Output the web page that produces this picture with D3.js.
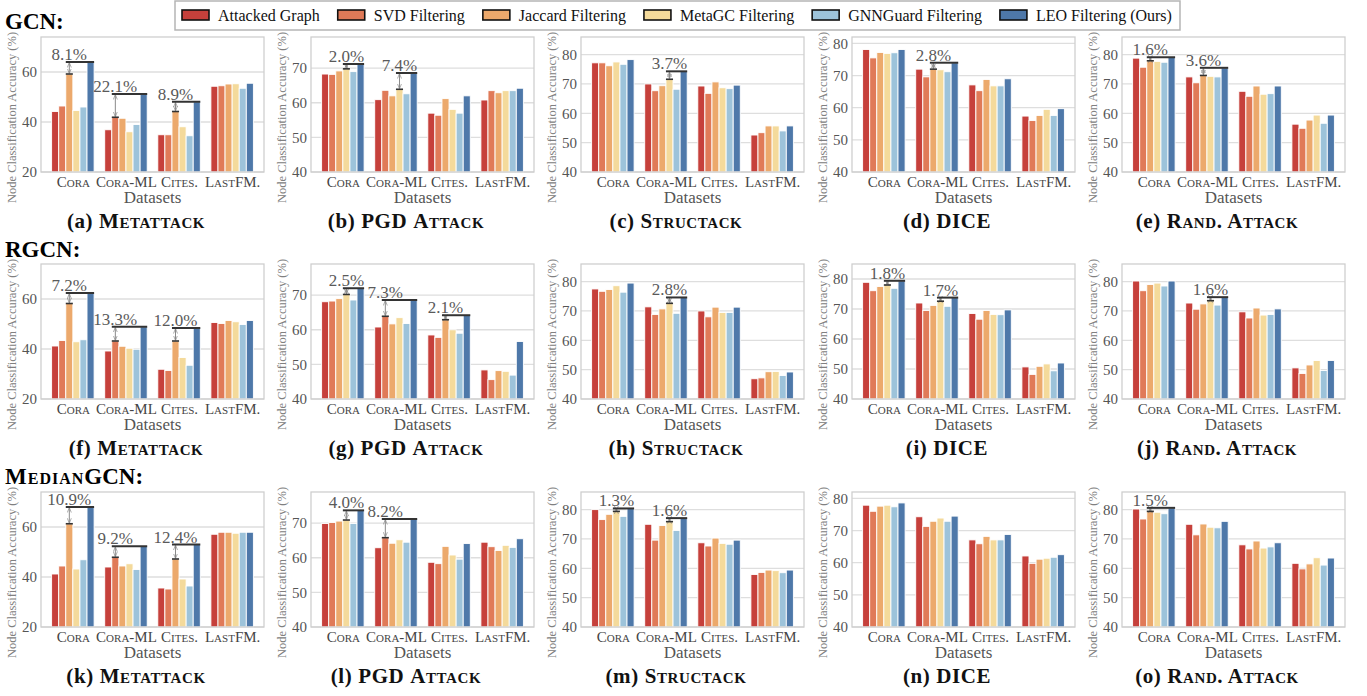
<!DOCTYPE html>
<html><head><meta charset="utf-8">
<script src="https://cdn.jsdelivr.net/npm/d3@7"></script>
<style>
body{margin:0;background:#fff;}
text{font-family:"Liberation Serif","Times New Roman",serif;}
</style></head><body>
<svg id="chart" width="1367" height="696"></svg>
<script>
const methods = ["Attacked Graph","SVD Filtering","Jaccard Filtering","MetaGC Filtering","GNNGuard Filtering","LEO Filtering (Ours)"];
const methodColors = ["#c6403b","#e07a58","#eca96c","#f4da9b","#9dc3da","#4e78a9"];
const datasets = ["Cora","Cora-ML","Cites.","LastFM."];
const models = [["","GCN:"],["","RGCN:"],["Median","GCN:"]];
const attacks = [["","Metattack"],["PGD ","Attack"],["","Structack"],["DICE",""],["","Rand. Attack"]];
const letters = ["a","b","c","d","e","f","g","h","i","j","k","l","m","n","o"];

// values: [dataset][method]
const gcnMetattack = [[44.2,46.4,59.2,44.6,46.0,64.0],[36.9,41.9,41.5,36.1,39.0,51.2],[34.9,34.9,44.2,38.1,34.5,48.1],[54.3,54.5,55.2,55.3,53.5,55.5]];
const gcnPGD = [[68.3,68.2,69.2,69.8,69.0,71.2],[60.9,63.6,62.0,63.9,62.6,68.6],[57.0,56.4,61.2,58.1,57.0,62.0],[60.8,63.5,62.9,63.5,63.5,64.2]];
const gcnStructack = [[77.2,77.2,76.2,77.5,76.7,78.3],[70.0,67.7,69.4,71.6,68.2,74.3],[69.3,66.8,70.7,68.7,68.4,69.6],[52.6,53.4,55.7,55.7,54.0,55.7]];
const gcnDice = [[78.1,75.5,77.2,76.9,77.1,78.1],[72.0,69.6,72.0,71.8,71.2,74.0],[67.1,65.3,68.8,66.8,66.8,69.0],[57.4,56.0,57.6,59.5,57.6,59.7]];
const gcnRand = [[78.8,75.7,77.9,77.7,77.4,79.1],[72.4,70.4,72.9,72.6,72.4,75.5],[67.5,65.8,69.3,66.5,66.7,69.3],[56.3,54.9,57.7,59.4,56.6,59.4]];
const rgcnMetattack = [[41.2,43.4,58.2,42.9,43.7,62.4],[39.2,43.2,41.1,40.3,39.9,48.9],[31.9,31.4,43.2,36.6,33.5,48.4],[50.6,50.2,51.4,50.9,49.8,51.4]];
const rgcnPGD = [[68.1,68.3,69.0,70.2,68.6,72.0],[60.8,63.9,61.7,63.5,61.8,68.6],[58.5,57.8,62.9,60.0,59.0,64.2],[48.4,45.6,48.2,48.0,46.9,56.6]];
const rgcnStructack = [[77.5,76.7,77.3,78.6,76.4,79.5],[71.4,68.8,70.7,72.6,69.2,74.6],[70.0,68.0,71.3,69.5,69.5,71.3],[46.9,47.2,49.3,49.4,48.0,49.2]];
const rgcnDice = [[78.9,76.1,77.5,78.0,76.9,79.4],[72.0,69.5,71.2,72.6,70.9,73.8],[68.5,66.6,69.5,68.2,68.1,69.7],[50.7,48.2,50.9,51.7,49.4,52.0]];
const rgcnRand = [[80.2,76.9,79.0,79.5,78.5,80.2],[72.7,70.6,72.4,73.5,72.0,74.7],[69.7,67.6,71.0,68.6,68.8,70.7],[50.6,48.7,51.6,53.1,49.7,53.1]];
const medMetattack = [[41.2,44.4,61.3,43.2,46.9,68.0],[44.0,47.9,44.4,45.3,43.0,52.3],[35.6,35.2,47.2,39.2,36.4,53.0],[57.1,57.9,57.9,57.5,57.9,57.9]];
const medPGD = [[69.9,70.2,70.6,70.9,69.9,73.7],[62.9,65.8,64.2,65.2,64.5,71.2],[58.7,58.3,63.3,60.8,59.6,64.1],[64.5,63.2,62.1,63.6,63.0,65.5]];
const medStructack = [[80.0,76.6,78.4,79.4,77.7,80.4],[75.0,69.6,74.6,75.9,72.9,77.1],[68.7,67.6,70.3,68.5,68.2,69.6],[57.9,58.6,59.4,59.2,58.5,59.4]];
const medDice = [[77.9,76.0,77.6,77.9,77.4,78.6],[74.3,71.3,72.9,73.9,72.9,74.5],[67.1,65.9,68.2,67.1,67.1,68.8],[62.1,59.8,61.1,61.4,61.7,62.5]];
const medRand = [[80.2,76.8,79.4,79.1,78.6,80.6],[75.0,71.4,75.1,74.0,73.8,76.0],[68.0,66.6,69.3,66.9,67.3,68.7],[61.7,59.8,61.5,63.6,61.1,63.5]];

// annotations: [dataset index, best-baseline method index, label]
const gcnMetattackNotes = [[0,2,"8.1%"],[1,1,"22.1%"],[2,2,"8.9%"]];
const gcnPGDNotes = [[0,3,"2.0%"],[1,3,"7.4%"]];
const gcnStructackNotes = [[1,3,"3.7%"]];
const gcnDiceNotes = [[1,2,"2.8%"]];
const gcnRandNotes = [[0,2,"1.6%"],[1,2,"3.6%"]];
const rgcnMetattackNotes = [[0,2,"7.2%"],[1,1,"13.3%"],[2,2,"12.0%"]];
const rgcnPGDNotes = [[0,3,"2.5%"],[1,1,"7.3%"],[2,2,"2.1%"]];
const rgcnStructackNotes = [[1,3,"2.8%"]];
const rgcnDiceNotes = [[0,3,"1.8%"],[1,3,"1.7%"]];
const rgcnRandNotes = [[1,3,"1.6%"]];
const medMetattackNotes = [[0,2,"10.9%"],[1,1,"9.2%"],[2,2,"12.4%"]];
const medPGDNotes = [[0,3,"4.0%"],[1,1,"8.2%"]];
const medStructackNotes = [[0,3,"1.3%"],[1,3,"1.6%"]];
const medDiceNotes = [];
const medRandNotes = [[0,2,"1.5%"]];

const yMaxes = [74,79,86,82,86, 74,79,86,85,86, 74,79,86,82,86];
const ticksMeta = [20,40,60];
const ticksOther = [40,50,60,70,80];

const panelValues = [gcnMetattack,gcnPGD,gcnStructack,gcnDice,gcnRand,
  rgcnMetattack,rgcnPGD,rgcnStructack,rgcnDice,rgcnRand,
  medMetattack,medPGD,medStructack,medDice,medRand];
const panelNotes = [gcnMetattackNotes,gcnPGDNotes,gcnStructackNotes,gcnDiceNotes,gcnRandNotes,
  rgcnMetattackNotes,rgcnPGDNotes,rgcnStructackNotes,rgcnDiceNotes,rgcnRandNotes,
  medMetattackNotes,medPGDNotes,medStructackNotes,medDiceNotes,medRandNotes];

// ---------------- layout ----------------
const svg = d3.select("#chart");
const colLeft = [41,311,581,852,1122];
const rowTop = [37,264,492];
const W = 223, H = 135;
const SERIF = "'Liberation Serif','Times New Roman',serif";

const defs = svg.append("defs");
["s","e"].forEach(k=>{
  defs.append("marker").attr("id","arr"+k).attr("viewBox","0 0 10 10")
    .attr("refX",k==="e"?9:1).attr("refY",5).attr("markerWidth",5).attr("markerHeight",5)
    .attr("orient","auto")
    .append("path").attr("d",k==="e"?"M0,1 L10,5 L0,9":"M10,1 L0,5 L10,9")
    .attr("fill","none").attr("stroke","#8a8a8a").attr("stroke-width",1.4);
});

// Legend
const leg = svg.append("g");
const legBox = leg.append("rect").attr("x",175).attr("y",1).attr("height",29)
  .attr("fill","#fff").attr("stroke","#b5b5b5").attr("stroke-width",1.5);
let lx = 182;
methods.forEach((m,i)=>{
  leg.append("rect").attr("x",lx).attr("y",10).attr("width",27).attr("height",10)
    .attr("fill",methodColors[i]).attr("stroke","#111").attr("stroke-width",1.6);
  const t = leg.append("text").attr("x",lx+36).attr("y",21).attr("font-size",16)
    .attr("fill","#111").text(m);
  lx = lx + 36 + t.node().getComputedTextLength() + 18;
});
legBox.attr("width", Math.max(lx - 18 + 6 - 175, 1005));

// Row titles
models.forEach((m,r)=>{
  const t = svg.append("text").attr("x",5).attr("y",[29,257,484][r])
    .attr("font-size",23).attr("font-weight","bold").attr("fill","#000");
  if (m[0]) t.append("tspan").style("font-variant","small-caps").attr("letter-spacing",1).text(m[0]);
  t.append("tspan").text(m[1]);
});

const x = d3.scaleLinear().domain([-0.6,3.6]).range([0,W]);
const bw = 0.8/6;

panelValues.forEach((vals,p)=>{
  const r = Math.floor(p/5), c = p%5;
  const g = svg.append("g").attr("transform",`translate(${colLeft[c]},${rowTop[r]})`);
  const ymin = c===0 ? 20 : 40;
  const y = d3.scaleLinear().domain([ymin,yMaxes[p]]).range([H,0]);
  const ticks = (c===0?ticksMeta:ticksOther).filter(t=>t<=yMaxes[p]);

  // grid
  g.selectAll(".grid").data(ticks).join("line")
    .attr("x1",0).attr("x2",W).attr("y1",d=>y(d)).attr("y2",d=>y(d))
    .attr("stroke","#dedede").attr("stroke-width",1.3);

  // bars
  const flat = [];
  vals.forEach((row,gi)=>row.forEach((v,mi)=>flat.push({gi,mi,v})));
  g.selectAll(".bar").data(flat).join("rect")
    .attr("x",d=>x(d.gi-0.4+d.mi*bw))
    .attr("width",x(bw)-x(0))
    .attr("y",d=>y(d.v))
    .attr("height",d=>H-y(d.v))
    .attr("fill",d=>methodColors[d.mi])
    .attr("stroke","#fff").attr("stroke-width",0.9);

  // frame
  g.append("rect").attr("x",0).attr("y",0).attr("width",W).attr("height",H)
    .attr("fill","none").attr("stroke","#cfcfcf").attr("stroke-width",1.3);

  // y axis
  const ya = g.append("g").call(d3.axisLeft(y).tickValues(ticks).tickSize(0).tickPadding(4));
  ya.select(".domain").remove();
  ya.selectAll("text").attr("font-family",SERIF).attr("font-size",15).attr("fill","#555");

  // x axis
  const xa = g.append("g").attr("transform",`translate(0,${H})`)
    .call(d3.axisBottom(x).tickValues([0,1,2,3]).tickFormat(i=>datasets[i]).tickSize(0).tickPadding(4));
  xa.select(".domain").remove();
  xa.selectAll("text").attr("font-family",SERIF).attr("font-size",15)
    .attr("fill","#444").style("font-variant","small-caps");

  g.append("text").attr("x",W/2).attr("y",H+31).attr("text-anchor","middle")
    .attr("font-size",17).attr("fill","#555").text("Datasets");

  // y label
  g.append("text").attr("transform",`translate(${-29},${H/2+13}) rotate(-90)`)
    .attr("text-anchor","middle").attr("dominant-baseline","central")
    .attr("font-size",12.5).attr("fill","#808080").text("Node Classification Accuracy (%)");

  // annotations
  panelNotes[p].forEach(([gi,mi,lab])=>{
    const bx0 = x(gi-0.4+mi*bw), bx1 = x(gi-0.4+(mi+1)*bw), cx=(bx0+bx1)/2;
    const yTop = y(vals[gi][5]), yBase = y(vals[gi][mi]);
    const xr = x(gi+0.4);
    g.append("line").attr("x1",cx).attr("x2",cx).attr("y1",yBase-1).attr("y2",yTop+1)
      .attr("stroke","#8a8a8a").attr("stroke-width",1)
      .attr("marker-start","url(#arrs)").attr("marker-end","url(#arre)");
    g.append("line").attr("x1",bx0).attr("x2",bx1).attr("y1",yBase).attr("y2",yBase)
      .attr("stroke","#333").attr("stroke-width",1.6);
    g.append("line").attr("x1",bx0).attr("x2",xr).attr("y1",yTop).attr("y2",yTop)
      .attr("stroke","#333").attr("stroke-width",2);
    g.append("text").attr("x",cx).attr("y",yTop-2).attr("text-anchor","middle")
      .attr("font-size",17).attr("fill","#5a5a5a").text(lab);
  });

  // caption
  const cap = svg.append("text").attr("x",colLeft[c]+95).attr("y",rowTop[r]+H+56)
    .attr("text-anchor","middle").attr("font-size",21).attr("font-weight","bold")
    .attr("letter-spacing",0.6).attr("fill","#111");
  cap.append("tspan").text(`(${letters[p]}) `);
  if (attacks[c][0]) cap.append("tspan").text(attacks[c][0]);
  if (attacks[c][1]) cap.append("tspan").style("font-variant","small-caps").text(attacks[c][1]);
});
</script>
</body></html>
